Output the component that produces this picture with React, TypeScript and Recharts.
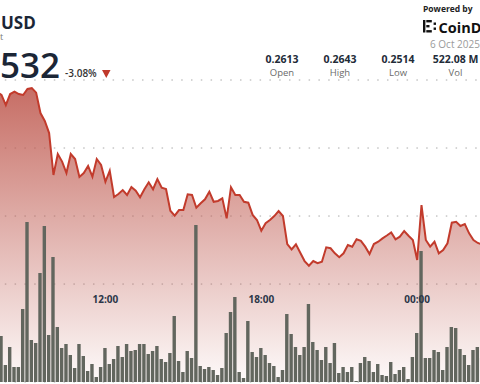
import React from "react";
import {
  ComposedChart,
  Area,
  Bar,
  XAxis,
  YAxis,
  CartesianGrid,
} from "recharts";

// 10-minute candles, first (07:50) and last (02:40) sit just outside the crop
const startTime = "07:50";

const prices = [
  0.2641, 0.2639, 0.26316, 0.26397, 0.26415, 0.26397, 0.2639, 0.26434, 0.2644, 0.26407,
  0.26257, 0.26199, 0.2611, 0.25802, 0.25956, 0.259, 0.25816, 0.25956, 0.25919, 0.25787,
  0.25816, 0.25868, 0.25789, 0.25919, 0.25875, 0.25752, 0.25833, 0.2564, 0.25662, 0.25691,
  0.25655, 0.25713, 0.25686, 0.25638, 0.25697, 0.25748, 0.25697, 0.25772, 0.25708, 0.25699,
  0.25539, 0.25503, 0.25544, 0.25544, 0.2566, 0.25655, 0.25561, 0.25594, 0.25623, 0.25679,
  0.25605, 0.25611, 0.2563, 0.25483, 0.25711, 0.25655, 0.25655, 0.25605, 0.25598, 0.25508,
  0.25471, 0.25392, 0.25447, 0.25471, 0.255, 0.25537, 0.255, 0.25294, 0.25255, 0.25292,
  0.2523, 0.25169, 0.25135, 0.25169, 0.25153, 0.25164, 0.2527, 0.25263, 0.25226, 0.25197,
  0.25226, 0.25287, 0.25275, 0.25329, 0.25317, 0.25275, 0.25221, 0.25294, 0.25311, 0.25336,
  0.25357, 0.2538, 0.25329, 0.25348, 0.2539, 0.25355, 0.25324, 0.25177, 0.25581, 0.25324,
  0.25275, 0.25311, 0.25226, 0.2525, 0.253, 0.25451, 0.25458, 0.25427, 0.25441, 0.25373,
  0.25324, 0.25302, 0.2529,
];

// volume per candle, millions
const volumes = [
  3.2, 5.48, 2.03, 4.17, 1.79, 1.79, 8.7, 19.07, 5.01, 4.65,
  12.99, 18.6, 5.6, 14.9, 6.56, 4.05, 4.53, 3.22, 1.67, 4.53,
  3.1, 1.31, 2.15, 0.6, 1.79, 4.05, 2.15, 2.74, 4.29, 2.98,
  4.53, 3.7, 3.81, 4.53, 4.53, 3.34, 3.7, 4.29, 2.74, 2.38,
  3.46, 7.87, 2.5, 1.19, 3.7, 2.86, 18.72, 1.91, 1.55, 1.79,
  1.43, 0.83, 1.67, 5.84, 8.34, 10.13, 1.19, 0.48, 7.27, 3.58,
  2.98, 4.05, 3.22, 2.26, 1.91, 0.6, 1.43, 8.11, 5.72, 4.17,
  3.22, 4.17, 9.3, 4.77, 3.81, 2.62, 4.17, 2.26, 4.65, 1.07,
  1.79, 1.19, 1.79, 0.12, 2.26, 2.98, 2.5, 1.19, 2.15, 0.83,
  0.72, 2.38, 0.95, 1.43, 1.79, 0.36, 2.98, 5.84, 15.62, 2.86,
  2.86, 3.81, 3.58, 1.43, 4.17, 6.56, 6.44, 3.93, 3.22, 2.03,
  3.81, 4.17, 2.9,
];

const tickLabels = ["12:00", "18:00", "00:00"];
const priceTicks = [0.25, 0.255, 0.26];

const stats = [
  { label: "Open", value: "0.2613", x: 282 },
  { label: "High", value: "0.2643", x: 340 },
  { label: "Low", value: "0.2514", x: 398 },
  { label: "Vol", value: "522.08 M", x: 455.5 },
];

const [h0, m0] = startTime.split(":").map(Number);
const data = prices.map((price, i) => {
  const mins = (h0 * 60 + m0 + i * 10) % 1440;
  const time =
    String(Math.floor(mins / 60)).padStart(2, "0") + ":" + String(mins % 60).padStart(2, "0");
  return { time, price, volume: volumes[i] };
});

const FONT = "'Open Sans', 'Noto Sans', sans-serif";
const BAND = 4.33;

const TimeTick = (props: any) => {
  const { x, payload } = props;
  if (!tickLabels.includes(payload.value)) return <g />;
  return (
    <text
      x={x}
      y={303}
      textAnchor="middle"
      fontFamily={FONT}
      fontSize={10}
      fontWeight={700}
      fill="#2b3648"
    >
      {payload.value}
    </text>
  );
};

export default function App() {
  return (
    <div
      style={{
        position: "absolute",
        left: 0,
        top: 0,
        width: 480,
        height: 384,
        overflow: "hidden",
        background: "#fff",
      }}
    >
      <div style={{ position: "absolute", left: 1.7 - BAND * 1.5, top: 0 }}>
        <ComposedChart
          width={BAND * data.length}
          height={384}
          data={data}
          margin={{ top: 80, right: 0, bottom: 1, left: 0 }}
        >
          <defs>
            <linearGradient id="pg" x1="0" y1="0" x2="0" y2="1">
              <stop offset="0%" stopColor="#bf5a50" stopOpacity={0.88} />
              <stop offset="100%" stopColor="#bf5a50" stopOpacity={0.03} />
            </linearGradient>
          </defs>
          <XAxis
            dataKey="time"
            height={1}
            axisLine={false}
            tickLine={false}
            interval={0}
            tick={<TimeTick />}
          />
          <YAxis yAxisId="p" hide domain={[0.2428, 0.265]} ticks={priceTicks} allowDataOverflow />
          <YAxis yAxisId="v" hide domain={[0, 36]} allowDataOverflow />
          <Area
            yAxisId="p"
            dataKey="price"
            type="linear"
            stroke="#c23b2c"
            strokeWidth={2}
            fill="url(#pg)"
            fillOpacity={1}
            baseValue="dataMin"
            dot={false}
            activeDot={false}
            isAnimationActive={false}
          />
          <CartesianGrid
            yAxisId="p"
            vertical={false}
            stroke="#a9a9a9"
            strokeDasharray="1.5 8.3"
          />
          <Bar
            yAxisId="v"
            dataKey="volume"
            barSize={3.4}
            fill="#62665e"
            isAnimationActive={false}
          />
        </ComposedChart>
      </div>

      <svg
        width={480}
        height={80}
        style={{ position: "absolute", left: 0, top: 0 }}
        fontFamily={FONT}
      >
        <text x={1} y={29} fontSize={17} fontWeight={700} fill="#1b2636">
          USD
        </text>
        <text x={0} y={40} fontSize={9} fill="#777">
          t
        </text>
        <text x={0} y={78} fontSize={35} fontWeight={600} fill="#1b2636">
          532
        </text>
        <text x={65} y={77} fontSize={10} fontWeight={600} fill="#333">
          -3.08%
        </text>
        <polygon points="102,70 110.5,70 106.25,78" fill="#c0392b" />

        {stats.map((s) => (
          <g key={s.label}>
            <text x={s.x} y={63} textAnchor="middle" fontSize={10.5} fontWeight={700} fill="#222b38">
              {s.value}
            </text>
            <text x={s.x} y={76} textAnchor="middle" fontSize={9.5} fill="#6b6b6b">
              {s.label}
            </text>
          </g>
        ))}

        <text x={423} y={11.5} fontSize={8.5} fontWeight={700} fill="#222">
          Powered by
        </text>
        <g fill="#111">
          <rect x={423} y={20} width={2.4} height={12.5} />
          <rect x={426.3} y={20} width={5.5} height={2.4} />
          <rect x={426.3} y={30.1} width={5.5} height={2.4} />
          <rect x={426.3} y={25} width={3.2} height={2.4} />
          <rect x={433.6} y={22.5} width={2.4} height={2.4} />
          <rect x={433.6} y={27.5} width={2.4} height={2.4} />
        </g>
        <text x={438.5} y={32.5} fontSize={14.5} fontWeight={700} fill="#111">
          CoinDesk
        </text>
        <text x={430} y={48} fontSize={10} fill="#9a9a9a">
          6 Oct 2025 00:00
        </text>
      </svg>
    </div>
  );
}
